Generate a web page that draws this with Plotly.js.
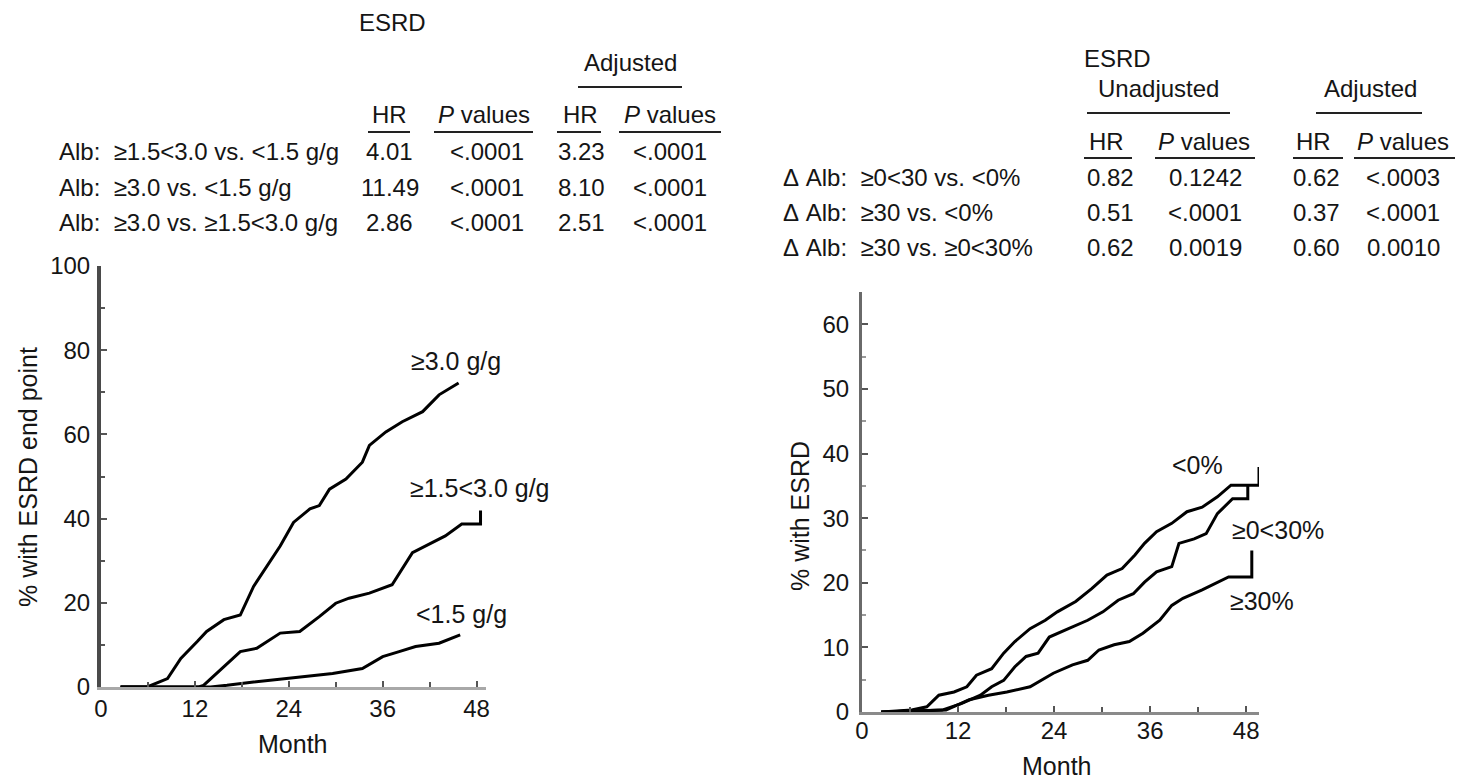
<!DOCTYPE html>
<html><head><meta charset="utf-8">
<script src="https://cdn.plot.ly/plotly-3.0.1.min.js"></script>
<style>html,body{margin:0;padding:0;background:#fff}#chart{width:1459px;height:779px}</style>
</head><body><div id="chart"></div>
<script>
const W = 1459, H = 779;

// ---------- Left panel: Kaplan-Meier curves by albuminuria (g/g) ----------
const alb30Month = [2.5, 5.9, 8.5, 10.2, 12.3, 13.5, 15.7, 17.8, 19.5, 21.2, 22.9, 24.6, 26.7, 27.9, 29.2, 31.3, 33.4, 34.3, 36.4, 38.5, 41.1, 43.2, 45.7];
const alb30Pct   = [0, 0, 2, 6.8, 10.8, 13.2, 16, 17.1, 23.9, 28.7, 33.5, 39.1, 42.3, 43.1, 47, 49.4, 53.4, 57.4, 60.6, 63, 65.4, 69.4, 72.2];
const alb15Month = [2.5, 12.5, 13.1, 15.2, 17.8, 19.9, 22.9, 25.4, 27.9, 30, 31.7, 34.3, 37.2, 39.8, 41.5, 44, 46.1, 48.5, 48.5];
const alb15Pct   = [0, 0, 0.4, 4, 8.4, 9.2, 12.8, 13.2, 16.7, 19.9, 21.1, 22.3, 24.3, 31.9, 33.5, 35.9, 38.7, 38.7, 41.9];
const alb0Month  = [2.5, 14, 16.1, 19.5, 23.7, 29.6, 33.4, 36, 38.1, 40.2, 43.2, 45.9];
const alb0Pct    = [0, 0, 0.4, 1.2, 2, 3.2, 4.4, 7.2, 8.4, 9.6, 10.4, 12.4];
const leftCurveLabels = ['≥3.0 g/g', '≥1.5<3.0 g/g', '<1.5 g/g'];

// ---------- Right panel: change in albuminuria ----------
const negMonth = [2.4, 6.2, 8.1, 9.6, 11.5, 13.1, 14.3, 16.2, 17.7, 19.1, 21, 22.9, 24.4, 26.7, 28.7, 30.6, 32.5, 34.1, 35.3, 36.8, 38.7, 40.6, 42.5, 44.4, 46.1, 49.6, 49.6];
const negPct   = [0, 0.3, 0.8, 2.6, 3.1, 3.9, 5.7, 6.7, 9.1, 10.9, 12.9, 14.2, 15.5, 17.1, 19.1, 21.2, 22.2, 24.3, 26.1, 27.9, 29.2, 31, 31.7, 33.3, 35.1, 35.1, 37.9];
const midMonth = [2.4, 10, 12.4, 14.8, 16.2, 17.7, 19.1, 20.5, 22, 23.4, 25.8, 28.2, 30.1, 32, 33.9, 35.3, 36.8, 38.7, 39.6, 41.5, 43, 44.4, 46.3, 48.2, 48.2];
const midPct   = [0, 0.3, 1.3, 2.6, 3.9, 4.9, 7, 8.6, 9.1, 11.6, 12.9, 14.2, 15.5, 17.3, 18.3, 20.1, 21.7, 22.5, 26.1, 26.8, 27.6, 30.7, 33, 33, 35.1];
const hiMonth  = [2.4, 10.5, 13.4, 15.8, 18.1, 21, 23.9, 26.3, 28.2, 29.6, 31.5, 33.4, 35.1, 37.2, 38.7, 40.1, 42.5, 44.4, 45.8, 48.7, 48.7];
const hiPct    = [0, 0.3, 1.9, 2.6, 3.1, 3.9, 6, 7.3, 8, 9.6, 10.4, 10.9, 12.2, 14.2, 16.5, 17.6, 18.9, 20.1, 20.9, 20.9, 25];
const rightCurveLabels = ['<0%', '≥0<30%', '≥30%'];

// ---------- Tables ----------
const leftRowLabels = ['Alb:\u00a0\u00a0≥1.5<3.0\u00a0vs.\u00a0<1.5\u00a0g/g', 'Alb:\u00a0\u00a0≥3.0\u00a0vs.\u00a0<1.5\u00a0g/g', 'Alb:\u00a0\u00a0≥3.0\u00a0vs.\u00a0≥1.5<3.0\u00a0g/g'];
const leftHR     = ['4.01', '11.49', '2.86'];
const leftP      = ['<.0001', '<.0001', '<.0001'];
const leftAdjHR  = ['3.23', '8.10', '2.51'];
const leftAdjP   = ['<.0001', '<.0001', '<.0001'];

const rightRowLabels = ['Δ\u00a0Alb:\u00a0\u00a0≥0<30\u00a0vs.\u00a0<0%', 'Δ\u00a0Alb:\u00a0\u00a0≥30\u00a0vs.\u00a0<0%', 'Δ\u00a0Alb:\u00a0\u00a0≥30\u00a0vs.\u00a0≥0<30%'];
const rightHR    = ['0.82', '0.51', '0.62'];
const rightP     = ['0.1242', '<.0001', '0.0019'];
const rightAdjHR = ['0.62', '0.37', '0.60'];
const rightAdjP  = ['<.0003', '<.0001', '0.0010'];

const FONT = 'Liberation Sans, Arial, Helvetica, sans-serif';
const INK = '#151515';
const px = v => v / W, py = v => 1 - v / H;

const annotations = [];
function ann(text, x, y, opts) {
  opts = opts || {};
  annotations.push(Object.assign({
    text: text, xref: 'paper', yref: 'paper', x: px(x), y: py(y),
    xanchor: opts.xa || 'center', yanchor: 'middle', showarrow: false,
    font: {family: FONT, size: opts.size || 24, color: INK}
  }, opts.extra || {}));
}
const shapes = [];
function uline(x0, x1, y) {
  shapes.push({type: 'line', xref: 'paper', yref: 'paper', x0: px(x0), x1: px(x1), y0: py(y), y1: py(y),
    line: {color: '#222', width: 2}});
}

// Left table
ann('ESRD', 392, 23);
ann('Adjusted', 630, 62);
uline(578, 682, 87);
ann('HR', 390, 114); ann('<i>P</i> values', 484, 114);
ann('HR', 580, 114); ann('<i>P</i> values', 670, 114);
uline(368, 410, 132); uline(434, 533, 132); uline(557, 601, 132); uline(619, 721, 132);
const leftRowY = [152, 187, 222];
leftRowY.forEach((y, i) => {
  ann(leftRowLabels[i], 57, y, {xa: 'left'});
  ann(leftHR[i], 390, y);
  ann(leftP[i], 487, y);
  ann(leftAdjHR[i], 581, y);
  ann(leftAdjP[i], 670, y);
});

// Right table
ann('ESRD', 1082, 58, {xa: 'left'});
ann('Unadjusted', 1158, 89);
ann('Adjusted', 1370, 89);
uline(1087, 1230, 113); uline(1316, 1422, 113);
ann('HR', 1106, 141); ann('<i>P</i> values', 1204, 141);
ann('HR', 1313, 141); ann('<i>P</i> values', 1403, 141);
uline(1084, 1132, 158); uline(1155, 1255, 158); uline(1293, 1343, 158); uline(1354, 1455, 158);
const rightRowY = [178, 212, 247];
rightRowY.forEach((y, i) => {
  ann(rightRowLabels[i], 781, y, {xa: 'left'});
  ann(rightHR[i], 1110, y);
  ann(rightP[i], 1205, y);
  ann(rightAdjHR[i], 1316, y);
  ann(rightAdjP[i], 1403, y);
});

// Curve labels and axis titles
ann(leftCurveLabels[0], 409, 361, {xa: 'left', size: 25});
ann(leftCurveLabels[1], 408, 488, {xa: 'left', size: 25});
ann(leftCurveLabels[2], 414, 614, {xa: 'left', size: 25});
ann('Month', 292, 744, {size: 25});
ann('% with ESRD end point', 28, 477, {size: 25, extra: {textangle: -90}});

ann(rightCurveLabels[0], 1170, 465, {xa: 'left', size: 25});
ann(rightCurveLabels[1], 1230, 530, {xa: 'left', size: 25});
ann(rightCurveLabels[2], 1228, 601, {xa: 'left', size: 25});
ann('Month', 1056, 766, {size: 25});
ann('% with ESRD', 800, 516, {size: 25, extra: {textangle: -90}});

const line = {color: '#000', width: 3};
const traces = [
  {x: alb30Month, y: alb30Pct, name: leftCurveLabels[0], xaxis: 'x', yaxis: 'y', mode: 'lines', line: line},
  {x: alb15Month, y: alb15Pct, name: leftCurveLabels[1], xaxis: 'x', yaxis: 'y', mode: 'lines', line: line},
  {x: alb0Month, y: alb0Pct, name: leftCurveLabels[2], xaxis: 'x', yaxis: 'y', mode: 'lines', line: line},
  {x: negMonth, y: negPct, name: rightCurveLabels[0], xaxis: 'x2', yaxis: 'y2', mode: 'lines', line: line},
  {x: midMonth, y: midPct, name: rightCurveLabels[1], xaxis: 'x2', yaxis: 'y2', mode: 'lines', line: line},
  {x: hiMonth, y: hiPct, name: rightCurveLabels[2], xaxis: 'x2', yaxis: 'y2', mode: 'lines', line: line}
];

const tickfont = {family: FONT, size: 24, color: INK};
function axis(extra) {
  return Object.assign({
    showgrid: false, zeroline: false, showline: true, ticks: 'inside', ticklen: 6, tickwidth: 2,
    tickcolor: '#555', tickfont: tickfont, tick0: 0, fixedrange: true
  }, extra);
}

const layout = {
  width: W, height: H, margin: {l: 0, r: 0, t: 0, b: 0},
  paper_bgcolor: '#fff', plot_bgcolor: 'rgba(0,0,0,0)', showlegend: false,
  font: {family: FONT, color: INK},
  xaxis: axis({domain: [px(101), px(486)], range: [0, 49.2], dtick: 12, anchor: 'y',
    linecolor: '#a8a8a8', linewidth: 3, ticklabelstandoff: -2,
    minor: {dtick: 6, ticks: 'inside', ticklen: 5, tickwidth: 2, tickcolor: '#555', showgrid: false}}),
  yaxis: axis({domain: [py(687), py(266)], range: [0, 100], dtick: 20, anchor: 'x',
    linecolor: '#4a4a4a', linewidth: 4, ticklabelstandoff: 2,
    minor: {dtick: 10, ticks: 'inside', ticklen: 4, tickwidth: 2, tickcolor: '#555', showgrid: false}}),
  xaxis2: axis({domain: [px(862), px(1259)], range: [0, 49.6], dtick: 12, anchor: 'y2',
    linecolor: '#8a8a8a', linewidth: 3, ticklabelstandoff: -5,
    minor: {dtick: 6, ticks: 'inside', ticklen: 5, tickwidth: 2, tickcolor: '#555', showgrid: false}}),
  yaxis2: axis({domain: [py(712), py(292)], range: [0, 65], dtick: 10, anchor: 'x2',
    linecolor: '#6a6a6a', linewidth: 3, ticklabelstandoff: 5,
    minor: {dtick: 5, ticks: 'inside', ticklen: 4, tickwidth: 2, tickcolor: '#999', showgrid: false}}),
  annotations: annotations,
  shapes: shapes
};

Plotly.newPlot('chart', traces, layout, {displayModeBar: false, staticPlot: true});
</script>
</body></html>
